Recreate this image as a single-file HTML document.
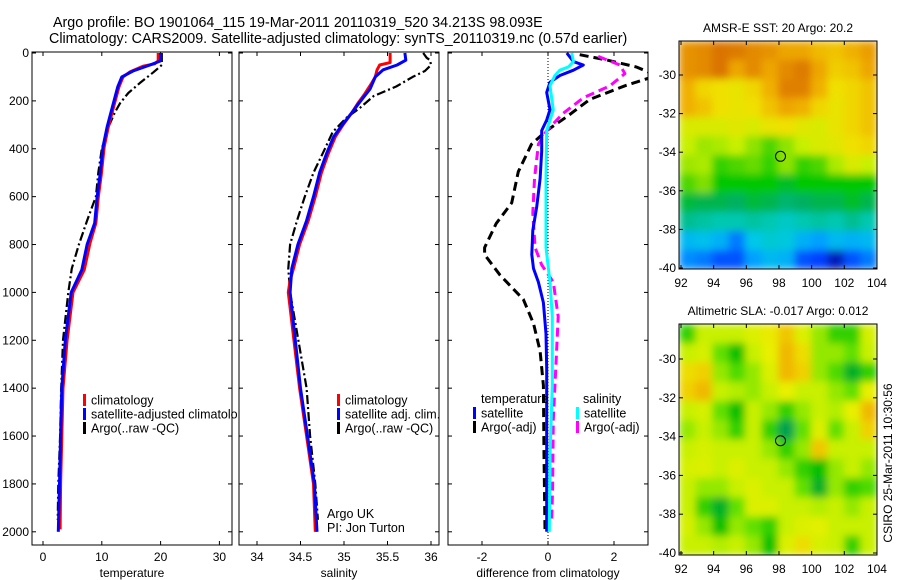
<!DOCTYPE html>
<html><head><meta charset="utf-8">
<style>
html,body{margin:0;padding:0;background:#fff;}
svg{display:block;font-family:"Liberation Sans",Arial,sans-serif;}
text{fill:#000;}
</style></head>
<body>
<svg id="fig" width="900" height="580" viewBox="0 0 900 580" xmlns="http://www.w3.org/2000/svg">
<defs>
  <clipPath id="c1"><rect x="32" y="52" width="200" height="493"/></clipPath>
  <clipPath id="c2"><rect x="239" y="52" width="200" height="493"/></clipPath>
  <clipPath id="c3"><rect x="448" y="52" width="200" height="493"/></clipPath>
  <clipPath id="cl1"><rect x="0" y="380" width="238" height="60"/></clipPath>
  <clipPath id="cm1"><rect x="679" y="41" width="198" height="228"/></clipPath>
  <clipPath id="cm2"><rect x="679" y="324" width="198" height="231"/></clipPath>
  <filter id="blur" x="0" y="0" width="1" height="1"><feGaussianBlur stdDeviation="4" edgeMode="duplicate"/></filter>
</defs>
<text x="53" y="27" font-size="14.3">Argo profile: BO 1901064_115 19-Mar-2011 20110319_520 34.213S 98.093E</text>
<text x="49" y="43" font-size="14.3">Climatology: CARS2009. Satellite-adjusted climatology: synTS_20110319.nc (0.57d earlier)</text>
<g id="g"></g>
</svg>
<script>
// ---------------- Data ----------------
const depthTicks = [0,200,400,600,800,1000,1200,1400,1600,1800,2000];
const tempTicks = [0,10,20,30];
const salTicks = [34,34.5,35,35.5,36];
const salTickLabels = ["34","34.5","35","35.5","36"];
const diffTicks = [-2,0,2];

const tClimDepth = [0,33,45,55,79,100,142,225,309,392,510,602,710,794,906,1000,1200,1400,1600,1800,1990];
const tClimVal   = [19.6,19.6,19,17,14.8,13.6,12.9,12,11.1,10.4,9.9,9.4,9,8,7,5.1,4.1,3.4,3.2,3.0,2.9];
const tSatDepth = [0,33,50,75,100,142,225,309,392,510,602,710,800,906,1000,1200,1400,1600,1800,2000];
const tSatVal   = [20.0,20.0,18.2,15.3,13.4,12.7,11.8,10.9,10.2,9.7,9.2,8.8,7.5,6.6,4.8,3.8,3.2,3.0,2.8,2.6];
const tArgoDepth = [0,50,80,125,167,210,250,310,400,500,600,700,800,900,1000,1200,1400,1600,1800,1950];
const tArgoVal   = [20.2,20.2,18.8,16.5,14.5,13.1,12.2,11.1,10,9.4,9,7.5,6.1,4.9,4.3,3.4,3.1,2.9,2.6,2.5];

const sClimDepth = [0,40,50,70,100,125,170,210,250,300,350,420,500,600,700,800,900,950,1000,1400,1600,1800,2000];
const sClimVal   = [35.53,35.53,35.41,35.38,35.36,35.32,35.24,35.16,35.09,34.99,34.9,34.82,34.74,34.67,34.59,34.49,34.42,34.38,34.36,34.49,34.57,34.65,34.67];
const sSatDepth = [0,30,50,70,100,150,210,250,300,350,420,500,600,700,800,900,1000,1400,1600,1800,2000];
const sSatVal   = [35.70,35.71,35.61,35.45,35.36,35.30,35.17,35.09,34.98,34.88,34.8,34.72,34.65,34.57,34.47,34.40,34.38,34.50,34.58,34.66,34.69];
const sArgoDepth = [0,20,30,50,75,100,140,180,230,270,330,400,500,600,700,800,900,1000,1400,1600,1800,1950];
const sArgoVal   = [35.91,35.95,35.99,36.0,35.93,35.79,35.6,35.34,35.18,35.03,34.87,34.78,34.65,34.55,34.46,34.38,34.36,34.38,34.57,34.61,34.67,34.7];

const dTSatDepth = [0,36,50,72,94,122,165,237,280,324,410,525,640,741,842,900,957,1043,1173,1317,2000];
const dTSatVal   = [0.57,0.77,1.07,0.77,0.36,0.06,-0.04,0.06,-0.04,-0.19,-0.19,-0.24,-0.34,-0.46,-0.49,-0.44,-0.29,-0.14,-0.06,-0.04,-0.04];
const dSSatDepth = [0,36,58,72,94,137,237,324,525,813,957,1101,1389,1676,2000];
const dSSatVal   = [0.72,0.77,0.62,0.36,0.21,0.06,0.16,-0.04,-0.06,-0.06,0.06,0.13,0.13,0.06,0.04];
const dTArgoDepth = [7,29,58,94,137,194,266,324,381,496,626,712,813,842,928,1029,1130,1245,1389,1676,1993];
const dTArgoVal   = [0.96,1.77,2.67,3.3,2.33,1.27,0.57,-0.04,-0.5,-0.9,-1.1,-1.57,-1.92,-1.92,-1.45,-0.75,-0.44,-0.24,-0.14,-0.12,-0.09];
const dSArgoDepth = [14,50,86,137,187,252,324,381,525,669,813,885,957,1101,1245,1532,1820,1964];
const dSArgoVal   = [1.52,2.18,2.33,1.88,1.07,0.46,-0.04,-0.29,-0.41,-0.46,-0.39,-0.19,0.16,0.31,0.26,0.16,0.14,0.11];

const latTicks = [-30,-32,-34,-36,-38,-40];
const lonTicks = [92,94,96,98,100,102,104];
const floatLon = 98.093, floatLat = -34.213;
const sstGrid = [
 [21.3,21.4,21.7,21.6,21.4,21.3,21.1,21.1,20.9,20.8,21.0,21.2],
 [21.3,21.4,21.7,21.1,21.4,21.1,21.4,21.6,21.1,20.7,20.8,21.1],
 [21.0,20.6,20.5,20.4,20.6,21.0,21.5,21.5,21.0,20.5,20.6,20.8],
 [21.0,20.8,20.5,20.4,20.5,20.8,21.1,21.0,20.6,20.4,20.6,20.8],
 [20.2,20.2,20.2,20.3,20.2,20.4,20.5,20.3,20.2,20.4,20.6,20.8],
 [20.0,19.7,19.8,20.0,19.6,19.3,19.6,20.0,20.2,20.3,20.5,20.6],
 [19.7,19.8,19.2,19.3,19.4,19.2,19.6,19.2,19.3,19.8,20.2,20.0],
 [19.3,19.5,19.0,19.0,19.0,19.0,18.8,19.0,19.0,19.0,19.0,19.0],
 [18.7,18.6,18.6,18.5,18.7,18.6,18.4,18.5,18.6,18.6,18.8,18.6],
 [18.2,18.1,18.0,18.0,18.1,18.0,17.8,18.0,18.1,18.0,18.2,18.0],
 [17.3,17.4,17.2,16.8,17.5,17.7,17.6,17.2,17.0,17.3,17.2,17.3],
 [16.9,16.8,16.6,16.6,17.0,17.3,17.2,16.6,16.5,16.2,16.6,16.8]
];
const slaGrid = [
 [-0.15,0,0,0,0.03,0.06,0.12,0.03,-0.05,-0.15,-0.15,0.02],
 [0,0.02,-0.1,-0.2,0,0.05,0.15,0.08,-0.05,-0.05,-0.1,0],
 [0.08,0.1,-0.05,-0.12,-0.05,0.03,0.15,0.1,-0.05,-0.12,-0.25,-0.15],
 [0.1,0.15,0,-0.02,-0.05,0,0.05,0,0,-0.05,-0.1,0.05],
 [0,0.02,-0.1,-0.2,0,-0.05,-0.15,-0.05,0,-0.02,0.05,0.15],
 [-0.05,0,-0.05,-0.15,0,-0.15,-0.3,-0.1,0.03,-0.1,0,0.1],
 [0,0.02,0,0,0,-0.05,-0.15,-0.05,0.12,0,0,0],
 [0.02,0.03,0,0.03,0,0,-0.05,-0.15,-0.2,-0.05,0,-0.05],
 [0,-0.05,-0.05,0,0.03,0,0,-0.1,-0.25,-0.05,-0.15,-0.12],
 [0,-0.15,-0.25,-0.1,0.03,0.03,0,0,-0.02,0,-0.05,0],
 [0.02,-0.05,-0.2,-0.05,-0.1,-0.15,0,0.03,0.04,0,0,0],
 [0,0,-0.02,0,-0.05,-0.2,0.03,0.08,0.02,0,-0.15,0]
];

// ---------------- Helpers ----------------
const NS="http://www.w3.org/2000/svg";
const G=document.getElementById('g');
function mk(tag,attrs,parent){const e=document.createElementNS(NS,tag);for(const k in attrs)e.setAttribute(k,attrs[k]);(parent||G).appendChild(e);return e;}
const yD = d => 53 + d*0.2394;
const xT = v => 43 + v*5.88;
const xS = v => 257 + (v-34)*87;
const xDf = v => 548 + v*33;

function panel(x0,name,xticks,xfun,xlabels,xtitle,leftLabels){
  const w=200, y0=52, y1=545;
  const r=mk('rect',{x:x0,y:y0,width:w,height:y1-y0,fill:'none',stroke:'#000','stroke-width':1});
  
  
  depthTicks.forEach(d=>{
    const y=yD(d);
    const t1=mk('line',{x1:x0,x2:x0+4,y1:y,y2:y,stroke:'#000'});
    
    
    const t2=mk('line',{x1:x0+w-4,x2:x0+w,y1:y,y2:y,stroke:'#000'});
    
    
    if(leftLabels){
      const t=mk('text',{x:x0-3,y:y+4,'font-size':12,'text-anchor':'end'});t.textContent=d;
      
      
    }
  });
  xticks.forEach((v,i)=>{
    const x=xfun(v);
    const a=mk('line',{x1:x,x2:x,y1:y1,y2:y1-4,stroke:'#000'});
    
    
    const b=mk('line',{x1:x,x2:x,y1:y0,y2:y0+4,stroke:'#000'});
    
    
    const t=mk('text',{x:x,y:561,'font-size':12,'text-anchor':'middle'});t.textContent=xlabels[i];
    
    
  });
  const tt=mk('text',{x:x0+w/2,y:577,'font-size':12,'text-anchor':'middle'});tt.textContent=xtitle;
  
  
}
function line(depths,vals,xf,color,width,dash,clip,name){
  const pts=depths.map((d,i)=>xf(vals[i]).toFixed(1)+','+yD(d).toFixed(1)).join(' ');
  const a={points:pts,fill:'none',stroke:color,'stroke-width':width,'clip-path':'url(#'+clip+')','stroke-linejoin':'round'};
  if(dash)a['stroke-dasharray']=dash;
  const p=mk('polyline',a);
  
  
}
function legend(x,y,color,label,name,parent){
  const m=mk('rect',{x:x,y:y-6,width:3,height:12,fill:color},parent);
  
  
  const t=mk('text',{x:x+8,y:y+4.5,'font-size':12.5},parent);t.textContent=label;
  
  
}
function txt(x,y,s,name,extra){
  const t=mk('text',Object.assign({x:x,y:y,'font-size':12.5},extra||{}));t.textContent=s;
  
  
  return t;
}

// ---------------- Panel 1: temperature ----------------
panel(32,'temperature-panel',tempTicks,xT,tempTicks.map(String),'temperature',true);
line(tArgoDepth,tArgoVal,xT,'#000',2.2,'9,3,2,3','c1','temperature-argo-line');
line(tClimDepth,tClimVal,xT,'#f00',3,null,'c1','temperature-climatology-line');
line(tSatDepth,tSatVal,xT,'#00f',3,null,'c1','temperature-satellite-line');
const lg1=mk('g',{'clip-path':'url(#cl1)'});


legend(83,400,'#f00','climatology','legend-climatology',lg1);
legend(83,414,'#00f','satellite-adjusted climatology','legend-satellite-adjusted',lg1);
legend(83,428,'#000','Argo(..raw -QC)','legend-argo',lg1);

// ---------------- Panel 2: salinity ----------------
panel(239,'salinity-panel',salTicks,xS,salTickLabels,'salinity',false);
line(sArgoDepth,sArgoVal,xS,'#000',2.2,'9,3,2,3','c2','salinity-argo-line');
line(sClimDepth,sClimVal,xS,'#f00',3,null,'c2','salinity-climatology-line');
line(sSatDepth,sSatVal,xS,'#00f',3,null,'c2','salinity-satellite-line');
legend(337,400,'#f00','climatology','legend-sal-climatology');
legend(337,414,'#00f','satellite adj. clim.','legend-sal-satellite');
legend(337,428,'#000','Argo(..raw -QC)','legend-sal-argo');
txt(327,518,'Argo UK','argo-uk-label');
txt(327,532,'PI: Jon Turton','pi-label');

// ---------------- Panel 3: differences ----------------
panel(448,'difference-panel',diffTicks,xDf,diffTicks.map(String),'difference from climatology',false);
const z=mk('line',{x1:xDf(0),x2:xDf(0),y1:52,y2:545,stroke:'#000','stroke-width':1,'stroke-dasharray':'1,2'});


line(dTArgoDepth,dTArgoVal,xDf,'#000',3,'9,5','c3','diff-temperature-argo-line');
line(dSArgoDepth,dSArgoVal,xDf,'#f0f',3,'9,5','c3','diff-salinity-argo-line');
line(dTSatDepth,dTSatVal,xDf,'#00f',3,null,'c3','diff-temperature-satellite-line');
line(dSSatDepth,dSSatVal,xDf,'#0ff',3,null,'c3','diff-salinity-satellite-line');
txt(481,403,'temperature','legend-temperature-heading');
legend(473,413,'#00f','satellite','legend-temp-satellite');
legend(473,427,'#000','Argo(-adj)','legend-temp-argo');
txt(583,403,'salinity','legend-salinity-heading');
legend(576,413,'#0ff','satellite','legend-sal-satellite-diff');
legend(576,427,'#f0f','Argo(-adj)','legend-sal-argo-diff');

// ---------------- Maps ----------------
function lerpColor(stops,v){
  if(v<=stops[0][0])return stops[0][1];
  for(let i=1;i<stops.length;i++){
    if(v<=stops[i][0]){
      const [a,ca]=stops[i-1],[b,cb]=stops[i];const t=(v-a)/(b-a);
      const p=h=>[1,3,5].map(k=>parseInt(h.substr(k,2),16));
      const A=p(ca),B=p(cb);
      return 'rgb('+A.map((x,j)=>Math.round(x+(B[j]-x)*t)).join(',')+')';
    }
  }
  return stops[stops.length-1][1];
}
const sstStops=[[16,'#00008c'],[16.5,'#0040ff'],[17,'#00a0ff'],[17.5,'#00c8e8'],[18,'#00c8b0'],[18.5,'#00b060'],[19,'#00c800'],[19.5,'#80e000'],[20,'#c8f000'],[20.5,'#f0e000'],[21,'#f0b000'],[21.5,'#e08000'],[22,'#d06000']];
const slaStops=[[-0.3,'#00a050'],[-0.2,'#00c000'],[-0.1,'#60e000'],[0,'#c8f000'],[0.05,'#e8f000'],[0.1,'#f0d000'],[0.2,'#f0a000']];

function map(x0,y0,w,h,grid,stops,clip,name,latY,title){
  const gg=mk('g',{'clip-path':'url(#'+clip+')'});
  
  
  const inner=mk('g',{filter:'url(#blur)'},gg);
  const rows=grid.length, cols=grid[0].length;
  const cw=w/cols, ch=h/rows;
  grid.forEach((row,i)=>row.forEach((v,j)=>{
    const c=mk('rect',{x:x0+j*cw,y:y0+i*ch,width:cw+0.6,height:ch+0.6,fill:lerpColor(stops,v)},inner);
    
    
  }));
  const fr=mk('rect',{x:x0,y:y0,width:w,height:h,fill:'none',stroke:'#000'});
  
  
  const lx=v=>681+(v-92)*16.33;
  lonTicks.forEach(v=>{
    const x=lx(v);
    const a=mk('line',{x1:x,x2:x,y1:y0+h,y2:y0+h-4,stroke:'#000'});
    
    
    const b=mk('line',{x1:x,x2:x,y1:y0,y2:y0+4,stroke:'#000'});
    
    
    const t=mk('text',{x:x,y:y0+h+18,'font-size':12,'text-anchor':'middle'});t.textContent=v;
    
    
  });
  latTicks.forEach(v=>{
    const y=latY(v);
    const a=mk('line',{x1:x0,x2:x0+4,y1:y,y2:y,stroke:'#000'});
    
    
    const b=mk('line',{x1:x0+w-4,x2:x0+w,y1:y,y2:y,stroke:'#000'});
    
    
    const t=mk('text',{x:x0-3,y:y+4,'font-size':12,'text-anchor':'end'});t.textContent=v;
    
    
  });
  const c=mk('circle',{cx:lx(floatLon),cy:latY(floatLat),r:5,fill:'none',stroke:'#000','stroke-width':1});
  
  
  const tt=mk('text',{x:x0+w/2,y:y0-9,'font-size':12,'text-anchor':'middle'});tt.textContent=title;
  
  
}
map(679,41,198,228,sstGrid,sstStops,'cm1','sst-map',v=>75+(-30-v)*19.3,'AMSR-E SST: 20 Argo: 20.2');
map(679,324,198,231,slaGrid,slaStops,'cm2','sla-map',v=>359+(-30-v)*19.4,'Altimetric SLA: -0.017 Argo: 0.012');

const cs=mk('text',{x:0,y:0,'font-size':12,'text-anchor':'middle',transform:'translate(892,463) rotate(-90)'});
cs.textContent='CSIRO 25-Mar-2011 10:30:56';


</script>
</body></html>
